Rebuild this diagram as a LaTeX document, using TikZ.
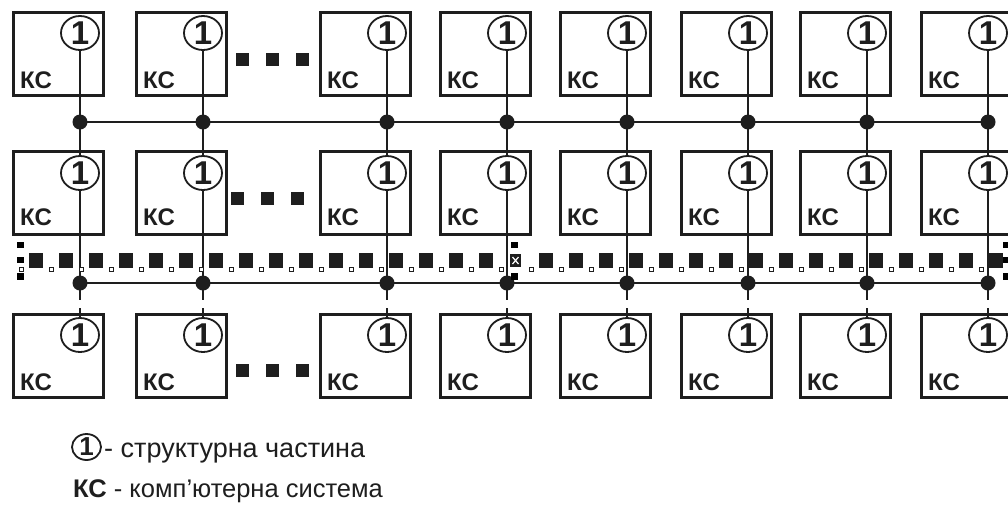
\documentclass[tikz,border=0pt]{standalone}
\usepackage{fontspec}
\setmainfont{Liberation Sans}
\usetikzlibrary{shapes.geometric}
\definecolor{ink}{HTML}{1E1E1E}
\begin{document}
\begin{tikzpicture}[x=1pt,y=-1pt,
  kbox/.style={draw=ink, line width=3pt, minimum width=90pt, minimum height=83pt, inner sep=0pt, outer sep=0pt},
  part/.style={ellipse, draw=ink, line width=1.8pt, fill=white, minimum width=38pt, minimum height=34pt, inner sep=0pt, outer sep=0pt, font=\fontsize{33}{33}\selectfont\bfseries, text=ink},
  ks/.style={font=\fontsize{24}{24}\selectfont\bfseries, inner sep=0pt, anchor=base west, text=ink},
  wire/.style={draw=ink, line width=2.6pt},
  jdot/.style={circle, fill=ink, minimum size=15pt, inner sep=0pt},
  smallsq/.style={draw=ink, fill=white, line width=0.8pt},
  handle/.style={fill=black},
  legtext/.style={font=\fontsize{27}{27}\selectfont, inner sep=0pt, anchor=base west, text=ink}
]
\useasboundingbox (0,0) rectangle (1008,507);
\fill[white] (0,0) rectangle (1008,507);
\clip (0,0) rectangle (1008,507);

% columns: index / circle x
\foreach \i/\cx in {1/80,2/203,3/387,4/507,5/627,6/748,7/867,8/988}{
  % boxes
  \node[kbox] (b1\i) at ({\cx-67+45},{12+41.5}) {};
  \node[kbox] (b2\i) at ({\cx-67+45},{151+41.5}) {};
  \node[kbox] (b3\i) at ({\cx-67+45},{314+41.5}) {};
  \node[ks] (k1\i) at ({\cx-60},88) {КС};
  \node[ks] (k2\i) at ({\cx-60},225) {КС};
  \node[ks] (k3\i) at ({\cx-60},390) {КС};
  % circles
  \node[part] (c1\i) at (\cx,33) {1};
  \node[part] (c2\i) at (\cx,173) {1};
  \node[part] (c3\i) at (\cx,335) {1};
  % junctions
  \coordinate (j1\i) at (\cx,122);
  \coordinate (j2\i) at (\cx,283);
  \coordinate (g1\i) at (\cx,300);
  \coordinate (g2\i) at (\cx,308);
  \draw[wire] (c1\i.south) -- (j1\i) -- (c2\i.north);
  \draw[wire] (c2\i.south) -- (j2\i) -- (g1\i);
  \draw[wire] (g2\i) -- (c3\i.north);
}
% buses
\draw[wire] (j11) -- (j18);
\draw[wire] (j21) -- (j28);
\foreach \i in {1,...,8}{
  \node[jdot] (d1\i) at (j1\i) {};
  \node[jdot] (d2\i) at (j2\i) {};
}

% ellipsis squares
\foreach \x in {236,266,296}{ \fill[ink] (\x,53) rectangle ++(13,13); }
\foreach \x in {231,261,291}{ \fill[ink] (\x,192) rectangle ++(13,13); }
\foreach \x in {236,266,296}{ \fill[ink] (\x,364) rectangle ++(13,13); }

% dotted line with selection handles
\foreach \k in {0,...,15,17,18,...,32}{
  \fill[ink] ({29+30*\k},253) rectangle ++(14,15);
}
\foreach \k in {-1,0,...,31}{
  \filldraw[smallsq] ({49+30*\k},267) rectangle ++(4,4);
}
\fill[ink] (510,254) rectangle (521,267);
\draw[white, line width=1.2pt] (512.5,257) -- (518.5,264) (518.5,257) -- (512.5,264);
\foreach \x in {17,511,1003}{
  \fill[handle] (\x,242) rectangle ++(7,6);
  \fill[handle] (\x,273) rectangle ++(7,7);
}
\foreach \x in {17,1003}{
  \fill[handle] (\x,257) rectangle ++(7,6);
}

% legend
\node[part, minimum width=29pt, minimum height=26pt, font=\fontsize{26}{26}\selectfont\bfseries] (lc) at (86.5,447) {1};
\node[legtext] (l1) at (104,457) {- структурна частина};
\node[legtext, font=\fontsize{25.5}{25.5}\selectfont] (l2) at (73,497) {\textbf{КС} - комп’ютерна система};
\end{tikzpicture}
\end{document}
